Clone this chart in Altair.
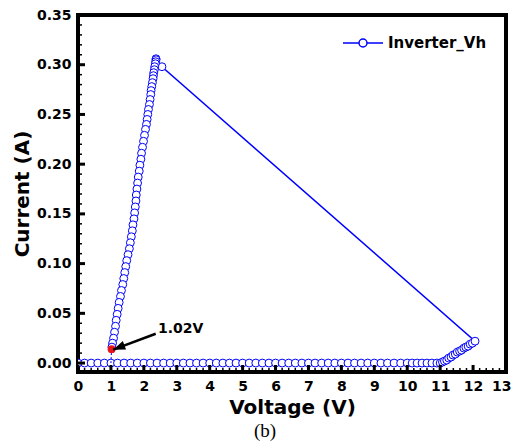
import altair as alt
import pandas as pd

# ---- data ----
bottom_v = [0.0, 0.2, 0.4, 0.6, 0.8, 1.0, 1.2, 1.4, 1.6, 1.8, 2.0, 2.2, 2.4, 2.6, 2.8, 3.0,
            3.2, 3.4, 3.6, 3.8, 4.0, 4.2, 4.4, 4.6, 4.8, 5.0, 5.2, 5.4, 5.6, 5.8, 6.0, 6.2,
            6.4, 6.6, 6.8, 7.0, 7.2, 7.4, 7.6, 7.8, 8.0, 8.2, 8.4, 8.6, 8.8, 9.0, 9.2, 9.4,
            9.6, 9.8, 10.0, 10.15, 10.3, 10.45, 10.6, 10.75, 10.9]
bottom_i = [0.0, 0.0, 0.0, 0.0, 0.0, 0.0, 0.0, 0.0, 0.0, 0.0, 0.0, 0.0, 0.0, 0.0, 0.0, 0.0,
            0.0, 0.0, 0.0, 0.0, 0.0, 0.0, 0.0, 0.0, 0.0, 0.0, 0.0, 0.0, 0.0, 0.0, 0.0, 0.0,
            0.0, 0.0, 0.0, 0.0, 0.0, 0.0, 0.0, 0.0, 0.0, 0.0, 0.0, 0.0, 0.0, 0.0, 0.0, 0.0,
            0.0, 0.0, 0.0, 0.0, 0.0, 0.0, 0.0, 0.0, 0.0]

rise_v = [11.0, 11.07, 11.13, 11.2, 11.26, 11.33, 11.39, 11.46, 11.52, 11.59, 11.65,
          11.72, 11.78, 11.85, 11.91, 11.98, 12.06]
rise_i = [0.0, 0.001, 0.002, 0.003, 0.005, 0.006, 0.008, 0.009, 0.011, 0.012, 0.013,
          0.015, 0.016, 0.017, 0.019, 0.020, 0.022]

jump_v = [2.55]
jump_i = [0.298]

fall_v = [2.37, 2.37, 2.36, 2.35, 2.33, 2.32, 2.30, 2.29, 2.28, 2.26, 2.24, 2.22, 2.21,
          2.19, 2.17, 2.14, 2.12, 2.10, 2.08, 2.05, 2.02, 1.99, 1.96, 1.93, 1.91, 1.88,
          1.86, 1.83, 1.81, 1.79, 1.77, 1.76, 1.74, 1.72, 1.70, 1.67, 1.65, 1.62, 1.59,
          1.56, 1.52, 1.48, 1.45, 1.42, 1.39, 1.36, 1.32, 1.29, 1.25, 1.22, 1.19, 1.16,
          1.14, 1.11, 1.08, 1.05, 1.03]
fall_i = [0.306, 0.305, 0.303, 0.301, 0.298, 0.295, 0.292, 0.289, 0.286, 0.282, 0.278,
          0.274, 0.270, 0.265, 0.260, 0.255, 0.250, 0.245, 0.240, 0.235, 0.229, 0.223,
          0.217, 0.211, 0.205, 0.199, 0.193, 0.187, 0.181, 0.175, 0.169, 0.163, 0.157,
          0.151, 0.145, 0.139, 0.133, 0.127, 0.121, 0.115, 0.109, 0.103, 0.097, 0.091,
          0.085, 0.079, 0.073, 0.067, 0.061, 0.055, 0.049, 0.043, 0.037, 0.031, 0.025,
          0.020, 0.016]

marker_v = [1.02]
marker_i = [0.014]
marker_label = ["1.02V"]

drop_v = [1.02, 1.0]
drop_i = [0.014, 0.0]

arrow_tail = (2.36, 0.0295)
arrow_head = (1.07, 0.0135)
label_pos = (2.43, 0.0345)

x_major = [0, 1, 2, 3, 4, 5, 6, 7, 8, 9, 10, 11, 12, 13]
x_minor = [0.2, 0.4, 0.6, 0.8, 1.2, 1.4, 1.6, 1.8, 2.2, 2.4, 2.6, 2.8, 3.2, 3.4, 3.6, 3.8,
           4.2, 4.4, 4.6, 4.8, 5.2, 5.4, 5.6, 5.8, 6.2, 6.4, 6.6, 6.8, 7.2, 7.4, 7.6, 7.8,
           8.2, 8.4, 8.6, 8.8, 9.2, 9.4, 9.6, 9.8, 10.2, 10.4, 10.6, 10.8, 11.2, 11.4,
           11.6, 11.8, 12.2, 12.4, 12.6, 12.8]
y_major = [0.0, 0.05, 0.10, 0.15, 0.20, 0.25, 0.30, 0.35]
y_minor = [0.01, 0.02, 0.03, 0.04, 0.06, 0.07, 0.08, 0.09, 0.11, 0.12, 0.13, 0.14, 0.16,
           0.17, 0.18, 0.19, 0.21, 0.22, 0.23, 0.24, 0.26, 0.27, 0.28, 0.29, 0.31, 0.32,
           0.33, 0.34]

SERIES = "Inverter_Vh"
BLUE = "#0000ff"
W, H = 428, 357
FONT = "DejaVu Sans"

all_v = bottom_v + rise_v + jump_v + fall_v
all_i = bottom_i + rise_i + jump_i + fall_i
df = pd.DataFrame({"v": all_v, "i": all_i, "order": list(range(len(all_v))),
                   "series": [SERIES] * len(all_v)})

xs = alt.Scale(domain=[0, 13], nice=False, zero=False)
ys = alt.Scale(domain=[-0.009, 0.35], nice=False, zero=False)

xenc = alt.X("v:Q", scale=xs,
             axis=alt.Axis(values=x_major, tickCount=30, title="Voltage (V)", format="d",
                           labelPadding=7, titlePadding=4, labelOverlap=False,
                           labelFlush=True, labelFlushOffset=5))
yenc = alt.Y("i:Q", scale=ys,
             axis=alt.Axis(values=y_major, tickCount=30, title="Current (A)", format=".2f",
                           labelPadding=7, titlePadding=4, labelOverlap=False,
                           labelFlush=False))

line = alt.Chart(df).mark_line(strokeWidth=1.5, clip=True).encode(
    x=xenc, y=yenc, order="order:Q",
    color=alt.Color("series:N", scale=alt.Scale(domain=[SERIES], range=[BLUE]),
                    legend=alt.Legend(
                        title=None, orient="none", legendX=274, legendY=17,
                        symbolType="M-2,0H-0.4M0.4,0H2M0.4,0A0.4,0.4,0,1,1,-0.4,0A0.4,0.4,0,1,1,0.4,0",
                        symbolSize=400, symbolStrokeWidth=1.5, symbolStrokeColor=BLUE,
                        labelFont=FONT, labelFontWeight="bold", labelFontSize=15,
                        labelColor="black", labelOffset=14, padding=0)))

points = alt.Chart(df).mark_point(shape="circle", filled=True, fill="white", stroke=BLUE,
                                  strokeWidth=1, size=62, opacity=1, clip=True).encode(
    x="v:Q", y="i:Q", order="order:Q")

drop = alt.Chart(pd.DataFrame({"v": drop_v, "i": drop_i})).mark_line(
    color=BLUE, strokeWidth=1, strokeDash=[2, 2]).encode(x="v:Q", y="i:Q")

marker = alt.Chart(pd.DataFrame({"v": marker_v, "i": marker_i})).mark_point(
    shape="circle", filled=True, color="#e8141b", size=62, opacity=1).encode(x="v:Q", y="i:Q")

arrow_df = pd.DataFrame({"v": [arrow_tail[0]], "i": [arrow_tail[1]],
                         "v2": [arrow_head[0]], "i2": [arrow_head[1]]})
shaft = alt.Chart(arrow_df).mark_rule(color="black", strokeWidth=2.5).encode(
    x="v:Q", y="i:Q", x2="v2:Q", y2="i2:Q")
head = alt.Chart(pd.DataFrame({"v": [arrow_head[0]], "i": [arrow_head[1]]})).mark_point(
    shape="M0,0L-0.9,2.4L0.9,2.4Z", filled=True, color="black", size=100, opacity=1,
    angle=249).encode(x="v:Q", y="i:Q")

label = alt.Chart(pd.DataFrame({"v": [label_pos[0]], "i": [label_pos[1]],
                                "t": marker_label})).mark_text(
    font=FONT, fontWeight="bold", fontSize=14, align="left", baseline="middle",
    color="black").encode(x="v:Q", y="i:Q", text="t:N")

xt_major = alt.Chart(pd.DataFrame({"v": x_major})).mark_rule(
    strokeWidth=3, color="black").encode(x="v:Q", y=alt.value(H), y2=alt.value(H - 7))
xt_minor = alt.Chart(pd.DataFrame({"v": x_minor})).mark_rule(
    strokeWidth=1.5, color="black").encode(x="v:Q", y=alt.value(H), y2=alt.value(H - 4))
yt_major = alt.Chart(pd.DataFrame({"i": y_major})).mark_rule(
    strokeWidth=3, color="black").encode(y="i:Q", x=alt.value(0), x2=alt.value(7))
yt_minor = alt.Chart(pd.DataFrame({"i": y_minor})).mark_rule(
    strokeWidth=1.5, color="black").encode(y="i:Q", x=alt.value(0), x2=alt.value(4))

chart = alt.layer(line, points, drop, marker, shaft, head, label,
                  xt_major, xt_minor, yt_major, yt_minor).properties(
    width=W, height=H,
    autosize=alt.AutoSizeParams(type="none"),
    padding={"left": 70, "top": 7, "right": 6, "bottom": 70},
    title=alt.TitleParams(text="(b)", orient="bottom", font="Liberation Serif",
                          fontSize=19, fontWeight="normal", color="black", dx=-27, offset=5),
).configure_view(
    stroke="black", strokeWidth=4
).configure_axis(
    domain=False, ticks=False, grid=False,
    labelFont=FONT, labelFontWeight="bold", labelFontSize=14, labelColor="black",
    titleFont=FONT, titleFontWeight="bold", titleFontSize=20, titleColor="black",
)

chart.save("out.html", embed_options={"renderer": "svg", "actions": False})
